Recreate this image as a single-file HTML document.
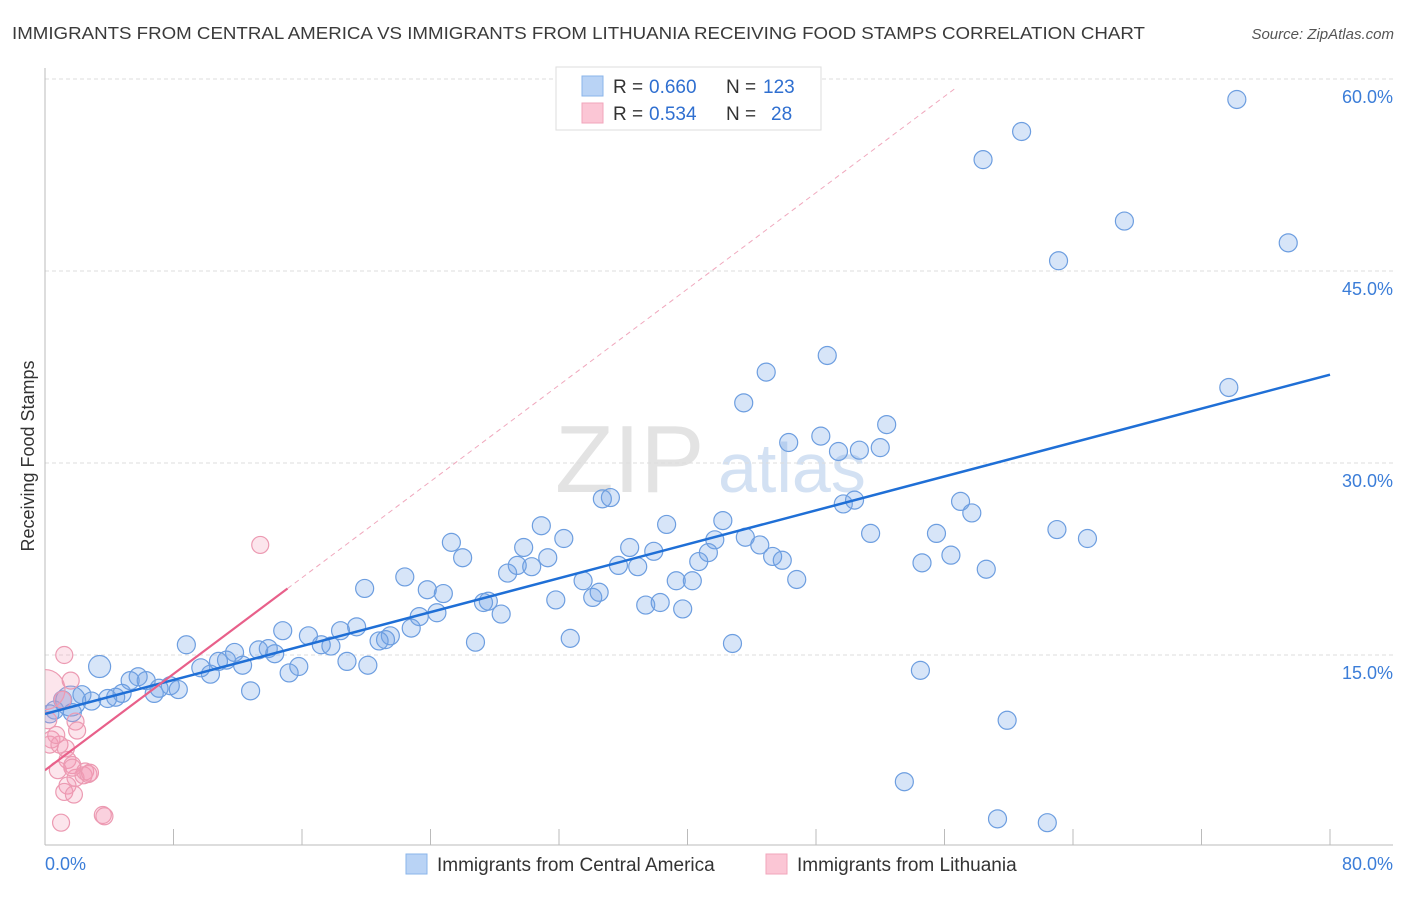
<!DOCTYPE html>
<html><head><meta charset="utf-8"><style>
body{margin:0;background:#fff;font-family:"Liberation Sans",sans-serif;}
svg text{font-family:"Liberation Sans",sans-serif;}
</style></head><body>
<svg id="chart" width="1406" height="892" xmlns="http://www.w3.org/2000/svg">
<defs><clipPath id="plotclip"><rect x="45" y="60" width="1360" height="785"/></clipPath></defs>
<text x="12" y="39" font-size="17.5" fill="#3a3a3a" textLength="1133" lengthAdjust="spacingAndGlyphs">IMMIGRANTS FROM CENTRAL AMERICA VS IMMIGRANTS FROM LITHUANIA RECEIVING FOOD STAMPS CORRELATION CHART</text>
<text x="1394" y="39" font-size="15" fill="#555" font-style="italic" text-anchor="end">Source: ZipAtlas.com</text>
<g>
<text x="555" y="492" font-size="96" fill="#e3e3e3" font-family="Liberation Serif,serif">ZIP</text>
<text x="718" y="492" font-size="70" fill="#d3e1f3">atlas</text>
</g>
<g id="grid"></g>
<g id="axes"></g>
<g id="marks" clip-path="url(#plotclip)"></g>
<text transform="translate(34,456) rotate(-90)" font-size="18" fill="#333" text-anchor="middle">Receiving Food Stamps</text>
<text x="45" y="870" font-size="18" fill="#3b7dd8">0.0%</text>
<text x="1393" y="870" font-size="18" fill="#3b7dd8" text-anchor="end">80.0%</text>
<g>
<rect x="556" y="67" width="265" height="63" fill="#fff" stroke="#ddd"/>
<rect x="582" y="76" width="21" height="20" fill="#b9d3f5" stroke="#8ab4ea"/>
<rect x="582" y="103" width="21" height="20" fill="#fbc6d5" stroke="#f2a5bb"/>
<text x="613" y="93" font-size="19" fill="#333">R =</text>
<text x="649" y="93" font-size="19" fill="#2f6fd0">0.660</text>
<text x="726" y="93" font-size="19" fill="#333">N =</text>
<text x="763" y="93" font-size="19" fill="#2f6fd0">123</text>
<text x="613" y="120" font-size="19" fill="#333">R =</text>
<text x="649" y="120" font-size="19" fill="#2f6fd0">0.534</text>
<text x="726" y="120" font-size="19" fill="#333">N =</text>
<text x="771" y="120" font-size="19" fill="#2f6fd0">28</text>
</g>
<g>
<rect x="406" y="854" width="21" height="20" fill="#b9d3f5" stroke="#8ab4ea"/>
<text x="437" y="871" font-size="19" fill="#333">Immigrants from Central America</text>
<rect x="766" y="854" width="21" height="20" fill="#fbc6d5" stroke="#f2a5bb"/>
<text x="797" y="871" font-size="19" fill="#333">Immigrants from Lithuania</text>
</g>
</svg>
<script>
const blueX=[74.2,60.8,58.4,67.2,77.4,63.1,48.7,44.9,43.5,73.7,52.4,48.3,46.3,49.4,50.7,52.0,57.0,57.7,50.4,49.7,38.7,42.2,35.2,34.7,30.9,32.3,25.3,26.0,29.8,31.3,36.4,37.9,41.7,43.6,44.5,41.3,40.7,45.3,45.9,36.9,35.7,28.8,29.4,30.3,33.5,22.4,19.9,23.8,24.8,34.1,34.5,31.8,27.6,27.3,28.4,23.3,24.4,37.4,38.3,39.3,40.3,39.7,46.8,51.4,55.5,56.4,54.6,58.6,63.0,64.9,42.8,26.8,32.7,21.5,21.2,20.8,22.8,19.4,18.4,16.4,17.2,17.8,14.8,13.9,13.3,14.3,15.8,15.2,18.8,20.1,11.8,12.3,11.3,10.8,9.7,10.3,8.8,12.8,7.8,8.3,6.8,7.1,6.3,5.8,5.3,4.8,4.4,3.9,2.9,3.4,2.3,1.6,1.1,0.6,0.3,1.7,54.5,59.9,53.5,59.3,62.4];
const blueY=[58.4,55.9,53.7,48.9,47.2,45.8,38.4,37.1,34.7,35.9,33.0,32.1,31.6,30.9,31.0,31.2,27.0,26.1,27.1,26.8,25.2,25.5,27.3,27.2,25.1,24.1,23.8,22.6,23.4,22.6,23.4,23.1,24.0,24.2,23.6,23.0,22.3,22.7,22.4,21.9,22.0,21.4,22.0,21.9,20.8,21.1,20.2,20.1,19.8,19.5,19.9,19.3,19.2,19.1,18.2,18.0,18.3,18.9,19.1,20.8,20.8,18.6,20.9,24.5,24.5,22.8,22.2,21.7,24.8,24.1,15.9,16.0,16.3,16.5,16.2,16.1,17.1,17.2,16.9,16.5,15.8,15.7,16.9,15.5,15.4,15.1,14.1,13.6,14.5,14.2,15.2,14.2,14.6,14.5,14.0,13.5,15.8,12.2,12.6,12.3,12.0,12.4,13.0,13.3,13.0,12.0,11.7,11.6,11.4,14.1,11.9,11.4,11.5,10.7,10.4,10.5,13.8,9.9,5.1,2.2,1.9];
const pinkX=[0,1.2,1.6,1.1,1.9,0.2,0.4,0.3,0.9,1.3,1.4,1.7,0.8,1.9,2.4,2.5,2.7,1.4,1.2,1.8,1.7,3.6,3.7,1.0,13.4,2.0,0.7,2.8];
const pinkY=[12.3,15.0,13.0,11.5,9.8,9.9,8.4,8.0,8.0,7.7,6.8,6.4,6.0,5.4,5.6,5.9,5.7,4.8,4.3,4.1,6.2,2.5,2.4,1.9,23.6,9.1,8.75,5.8];
const yTicks=[15,30,45,60];
const xTicks=[0,8,16,24,32,40,48,56,64,72,80];
const blueFit=[10.4,36.9];
const pinkFit=[6.0,0.94];
const NS="http://www.w3.org/2000/svg";
const sx=v=>45+v/80*1285, sy=v=>847-v*12.8;
function mk(t,a,p){const e=document.createElementNS(NS,t);for(const k in a)e.setAttribute(k,a[k]);p.appendChild(e);return e;}
const grid=document.getElementById('grid'),axes=document.getElementById('axes'),marks=document.getElementById('marks');
yTicks.forEach(t=>{
 const l=mk('line',{x1:45,x2:1393,y1:sy(t),y2:sy(t),stroke:'#ddd','stroke-dasharray':'4,3'},grid);
 
 
 const tx=mk('text',{x:1393,y:sy(t)+24,'font-size':18,fill:'#3b7dd8','text-anchor':'end'},grid);
 tx.textContent=t.toFixed(1)+'%';
 
 
});
const ya=mk('line',{x1:45,x2:45,y1:68,y2:845,stroke:'#bbb'},axes);


const xa=mk('line',{x1:45,x2:1393,y1:845,y2:845,stroke:'#bbb'},axes);


xTicks.forEach(t=>{
 const l=mk('line',{x1:sx(t),x2:sx(t),y1:829,y2:845,stroke:'#bbb'},axes);
 
 
});
blueX.forEach((x,i)=>{
 const r=(i===blueX.length-10)?15:((x===3.4)?11:9);
 const c=mk('circle',{cx:sx(x),cy:sy(blueY[i]),r:r,fill:'rgba(110,160,230,0.28)',stroke:'#6d9ee0','stroke-width':1.2},marks);
 
 
});
pinkX.forEach((x,i)=>{
 const c=mk('circle',{cx:sx(x),cy:sy(pinkY[i]),r:i===0?20:8.5,fill:'rgba(245,150,180,0.25)',stroke:'#ec9ab2','stroke-width':1.2},marks);
 
 
});
const bl=mk('line',{x1:sx(0),y1:sy(blueFit[0]),x2:sx(80),y2:sy(blueFit[1]),stroke:'#1f6fd6','stroke-width':2.5},marks);


const pl=mk('line',{x1:sx(0),y1:sy(pinkFit[0]),x2:sx(15.1),y2:sy(pinkFit[0]+pinkFit[1]*15.1),stroke:'#e8608a','stroke-width':2.2},marks);


const pd=mk('line',{x1:sx(15.1),y1:sy(pinkFit[0]+pinkFit[1]*15.1),x2:sx(56.7),y2:sy(pinkFit[0]+pinkFit[1]*56.7),stroke:'#f0a8bd','stroke-width':1,'stroke-dasharray':'5,4'},marks);


</script>
</body></html>
